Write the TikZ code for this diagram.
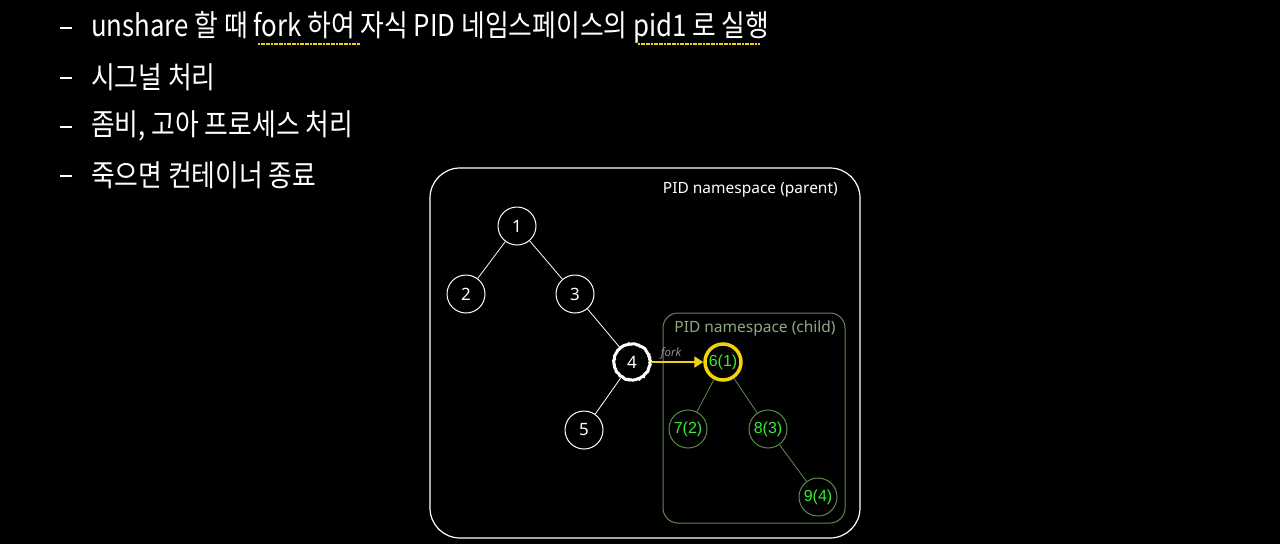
\documentclass[tikz,border=0pt]{standalone}
\usepackage{fontspec}
\setmainfont{Noto Sans}
\newfontfamily\kr[FakeStretch=0.86]{Noto Sans CJK KR}
\newfontfamily\lab{Noto Sans}
\newfontfamily\arl{Liberation Sans}
\usetikzlibrary{arrows.meta,decorations.pathmorphing}
\definecolor{cgreen}{HTML}{5E8A4E}
\definecolor{tgreen}{HTML}{33EE33}
\definecolor{ctitle}{HTML}{8FAA80}
\definecolor{yel}{HTML}{F2D20A}
\begin{document}
\begin{tikzpicture}[x=1pt,y=-1pt,
  bul/.style={anchor=west,text=white,font=\kr\fontsize{30}{32}\selectfont,inner sep=0},
  pnode/.style={circle,draw=white,line width=1pt,minimum size=38pt,inner sep=0,text=white,font=\lab\fontsize{17}{18}\selectfont},
  cnode/.style={circle,draw=cgreen,line width=1pt,minimum size=38pt,inner sep=0,text=tgreen,font=\arl\fontsize{16}{17}\selectfont},
  pedge/.style={draw=white,line width=0.8pt},
  cedge/.style={draw=cgreen,line width=0.8pt},
  dashbar/.style={draw=white,line width=2pt},
  uline/.style={draw=yel,line width=1.5pt,dash pattern=on 2pt off 0.6pt}]
\useasboundingbox[fill=black] (0,0) rectangle (1280,544);
% bullets
\foreach \y/\t [count=\i] in {27/{unshare 할 때 fork 하여 자식 PID 네임스페이스의 pid1 로 실행},77/{시그널 처리},126/{좀비, 고아 프로세스 처리},175/{죽으면 컨테이너 종료}}{
  \coordinate (da\i) at (60,\y+1);
  \coordinate (db\i) at (72,\y+1);
  \draw[dashbar] (da\i) -- (db\i);
  \node[bul] (b\i) at (91,\y) {\t};
}
\coordinate (u1a) at (258,44); \coordinate (u1b) at (360,44);
\coordinate (u2a) at (638,44); \coordinate (u2b) at (760,44);
\draw[uline] (u1a) -- (u1b);
\draw[uline] (u2a) -- (u2b);
% parent namespace
\node[draw=white,line width=1.2pt,rounded corners=30pt,minimum width=430pt,minimum height=370pt,inner sep=0] (par) at (645,353) {};
\node[anchor=east,text=white,font=\lab\fontsize{15.5}{16}\selectfont,inner sep=0] (ptitle) at (838,190) {PID namespace (parent)};
\node[pnode] (n1) at (517,226) {1};
\node[pnode] (n2) at (466,294) {2};
\node[pnode] (n3) at (575,294) {3};
\node[pnode] (n5) at (584,430) {5};
% child namespace
\node[draw=cgreen,line width=1pt,rounded corners=15pt,minimum width=182pt,minimum height=210pt,inner sep=0] (chi) at (754,418) {};
\node[text=ctitle,font=\lab\fontsize{15.5}{16}\selectfont,inner sep=0] (ctitle) at (755,328) {PID namespace (child)};
\node[pnode,line width=3pt,decorate,decoration={random steps,segment length=1.5pt,amplitude=0.5pt},minimum size=36pt] (n4) at (632,362) {4};
\node[cnode,draw=yel,line width=3.5pt,minimum size=36pt] (n6) at (723,362) {6(1)};
\node[cnode] (n7) at (688,429) {7(2)};
\node[cnode] (n8) at (768,429) {8(3)};
\node[cnode] (n9) at (818,497) {9(4)};
% edges
\draw[pedge] (n1) -- (n2);
\draw[pedge] (n1) -- (n3);
\draw[pedge] (n3) -- (n4);
\draw[pedge] (n4) -- (n5);
\draw[cedge] (n6) -- (n7);
\draw[cedge] (n6) -- (n8);
\draw[cedge] (n8) -- (n9);
\draw[draw=yel,line width=2.2pt,-{Triangle[length=9pt,width=11pt]}] (n4) -- node[above=1.5pt,text=gray!85,font=\lab\itshape\fontsize{11.5}{12}\selectfont,inner sep=0,pos=0.38] (fk) {fork} (n6);
\end{tikzpicture}
\end{document}
